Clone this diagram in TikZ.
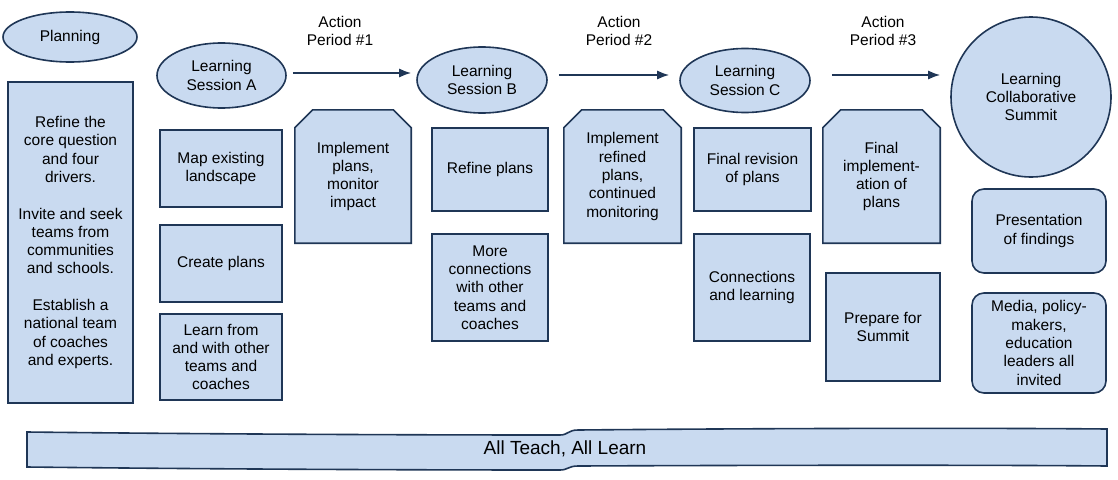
\documentclass[tikz,border=0pt]{standalone}
\usepackage{fontspec}
\setmainfont{Liberation Sans}
\usetikzlibrary{arrows.meta,backgrounds,shapes.geometric}
\definecolor{boxfill}{HTML}{C9DAF0}
\definecolor{boxline}{HTML}{1F3656}
\begin{document}
\begin{tikzpicture}[x=1pt,y=-1pt,
  base/.style={font=\fontsize{15.5}{18.3}\selectfont, align=center, inner sep=0pt},
  shapeline/.style={draw=boxline, fill=boxfill, line width=1.6pt},
  box/.style={base, shapeline, rectangle},
  rbox/.style={base, shapeline, rectangle, rounded corners=12pt},
  oval/.style={base, shapeline, ellipse},
  octo/.style={base},
  octoline/.style={shapeline, line join=miter},
  arr/.style={draw=boxline, line width=1.6pt, -{Latex[length=12pt,width=9pt]}},
  lab/.style={base}
]
\useasboundingbox (0,0) rectangle (1118,479);

% top row
\node[oval, minimum width=134pt, minimum height=50pt] (plan) at (70,37) {Planning};
\node[oval, minimum width=129pt, minimum height=65pt] (sA) at (221.5,75.5) {Learning\\Session A};
\node[oval, minimum width=130pt, minimum height=66pt] (sB) at (482,80) {Learning\\Session B};
\node[oval, minimum width=130pt, minimum height=64pt] (sC) at (745,80.5) {Learning\\Session C};
\node[base, shapeline, circle, minimum size=160pt] (summit) at (1031,97) {Learning\\Collaborative\\Summit};

\node[lab] (ap1) at (340,31) {Action\\Period \#1};
\node[lab] (ap2) at (619,31) {Action\\Period \#2};
\node[lab] (ap3) at (883,31) {Action\\Period \#3};

\coordinate (r1) at (0,73);
\coordinate (r2) at (0,75);
\draw[arr, shorten <=6pt, shorten >=5pt] (sA.east |- r1) -- (sB.west |- r1);
\draw[arr, shorten <=11pt, shorten >=10pt] (sB.east |- r2) -- (sC.west |- r2);
\draw[arr, shorten <=21pt, shorten >=10pt] (sC.east |- r2) -- (summit.west |- r2);

% planning box
\node[box, minimum width=125pt, minimum height=321pt] (pbox) at (70.5,242.5)
  {Refine the\\core question\\and four\\drivers.\\[18.3pt]Invite and seek\\teams from\\communities\\and schools.\\[18.3pt]Establish a\\national team\\of coaches\\and experts.};

% session A column
\node[box, minimum width=122pt, minimum height=77pt] (a1) at (221,168.5) {Map existing\\landscape};
\node[box, minimum width=122pt, minimum height=77pt] (a2) at (221,263.5) {Create plans};
\node[box, minimum width=122pt, minimum height=86pt] (a3) at (221,357) {Learn from\\and with other\\teams and\\coaches};

% session B column
\node[box, minimum width=116pt, minimum height=83pt] (b1) at (490,169.5) {Refine plans};
\node[box, minimum width=116pt, minimum height=107pt] (b2) at (490,287.5) {More\\connections\\with other\\teams and\\coaches};

% session C column
\node[box, minimum width=117pt, minimum height=83pt] (c1) at (752.5,169.5) {Final revision\\of plans};
\node[box, minimum width=116pt, minimum height=107pt] (c2) at (752,287.5) {Connections\\and learning};

% action period boxes
\node[octo, minimum width=116pt, minimum height=133pt] (o1) at (353,176.5) {Implement\\plans,\\monitor\\impact};
\node[octo, minimum width=117pt, minimum height=133pt] (o2) at (622.5,176.5) {Implement\\refined\\plans,\\continued\\monitoring};
\node[octo, minimum width=117pt, minimum height=133pt] (o3) at (881.5,176.5) {Final\\implement-\\ation of\\plans};
\node[box, minimum width=114pt, minimum height=108pt] (d2) at (883,327) {Prepare for\\Summit};

% summit column
\node[rbox, minimum width=134pt, minimum height=84pt] (s1) at (1039,231) {Presentation\\of findings};
\node[rbox, minimum width=134pt, minimum height=100pt] (s2) at (1039,343) {Media, policy-\\makers,\\education\\leaders all\\invited};

% banner
\node[base, font=\fontsize{19}{22}\selectfont] (banner) at (565,449) {All Teach, All Learn};

\begin{scope}[on background layer]
\foreach \o in {o1,o2,o3}{
  \draw[octoline] (\o.south west) -- ([yshift=-18pt]\o.north west) -- ([xshift=18pt]\o.north west)
    -- ([xshift=-18pt]\o.north east) -- ([yshift=-18pt]\o.north east) -- (\o.south east) -- cycle;
}
\draw[shapeline, line join=miter] (27,432) .. controls (200,434) and (400,435) .. (560,435)
  .. controls (568,435) and (568,430) .. (578,430)
  .. controls (800,428) and (1000,428) .. (1107,429)
  -- (1107,466)
  .. controls (1000,465) and (800,465) .. (578,466)
  .. controls (568,466) and (568,470) .. (560,470)
  .. controls (400,470) and (200,469) .. (27,467) -- cycle;
\end{scope}
\end{tikzpicture}
\end{document}
